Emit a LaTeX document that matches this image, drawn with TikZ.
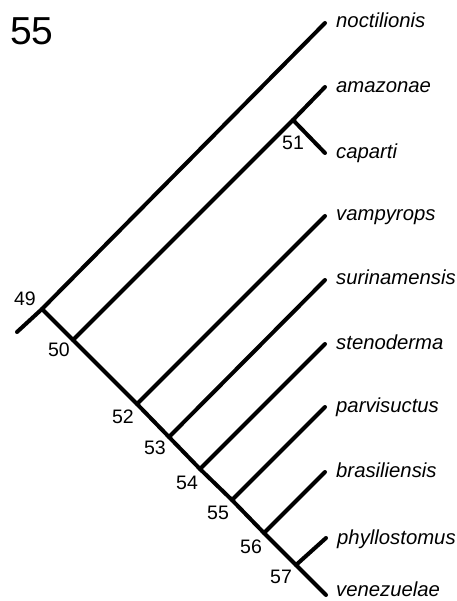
\documentclass[tikz,border=0pt]{standalone}
\usepackage{fontspec}
\setmainfont{Liberation Sans}
\usetikzlibrary{calc}
\begin{document}
\begin{tikzpicture}[x=1pt,y=-1pt,
  branch/.style={line width=4pt,line cap=round,line join=round},
  taxon/.style={anchor=base west,inner sep=0pt,font=\fontsize{20.3}{24}\selectfont\itshape},
  num/.style={anchor=center,inner sep=0pt,font=\fontsize{19.5}{23}\selectfont}]
\useasboundingbox (0,0) rectangle (456,601);
% internal nodes
\coordinate (root) at (17,332);
\coordinate (n49) at (42,309);
\coordinate (n50) at (73,340);
\coordinate (n51) at (293,120);
\coordinate (n52) at (137,404);
\coordinate (n53) at (169,437);
\coordinate (n54) at (200,469);
\coordinate (n55) at (232,500);
\coordinate (n56) at (264,533);
\coordinate (n57) at (296,565);
% tips
\coordinate (t1) at (325,23);
\coordinate (t2) at (325,87);
\coordinate (t3) at (325,153);
\coordinate (t4) at (325,216);
\coordinate (t5) at (325,280);
\coordinate (t6) at (325,344);
\coordinate (t7) at (325,407);
\coordinate (t8) at (325,472);
\coordinate (t9) at (326,538);
\coordinate (t10) at (326,595);
% branches
\draw[branch] (root) -- (n49) -- (t1);
\draw[branch] (n49) -- (n50) -- (n52) -- (n53) -- (n54) -- (n55) -- (n56) -- (n57) -- (t10);
\draw[branch] (n50) -- (n51) -- (t2);
\draw[branch] (n51) -- (t3);
\draw[branch] (n52) -- (t4);
\draw[branch] (n53) -- (t5);
\draw[branch] (n54) -- (t6);
\draw[branch] (n55) -- (t7);
\draw[branch] (n56) -- (t8);
\draw[branch] (n57) -- (t9);
% taxon labels
\node[taxon] (l1) at ($(t1)+(11,5)$) {noctilionis};
\node[taxon] (l2) at ($(t2)+(11,6)$) {amazonae};
\node[taxon] (l3) at ($(t3)+(11,6)$) {caparti};
\node[taxon] (l4) at ($(t4)+(11,5)$) {vampyrops};
\node[taxon] (l5) at ($(t5)+(11,4)$) {surinamensis};
\node[taxon] (l6) at ($(t6)+(11,5)$) {stenoderma};
\node[taxon] (l7) at ($(t7)+(11,5)$) {parvisuctus};
\node[taxon] (l8) at ($(t8)+(11,5)$) {brasiliensis};
\node[taxon] (l9) at ($(t9)+(11,6)$) {phyllostomus};
\node[taxon] (l10) at ($(t10)+(10,1)$) {venezuelae};
% node numbers
\node[num] (m49) at (25,299) {49};
\node[num] (m50) at (59,350) {50};
\node[num] (m51) at (293,143) {51};
\node[num] (m52) at (123,417) {52};
\node[num] (m53) at (155,448) {53};
\node[num] (m54) at (187,483) {54};
\node[num] (m55) at (218,513) {55};
\node[num] (m56) at (251,547) {56};
\node[num] (m57) at (281,577) {57};
% title
\node[anchor=base west,inner sep=0pt,font=\fontsize{39}{44}\selectfont] (title) at (10,45) {55};
\end{tikzpicture}
\end{document}
